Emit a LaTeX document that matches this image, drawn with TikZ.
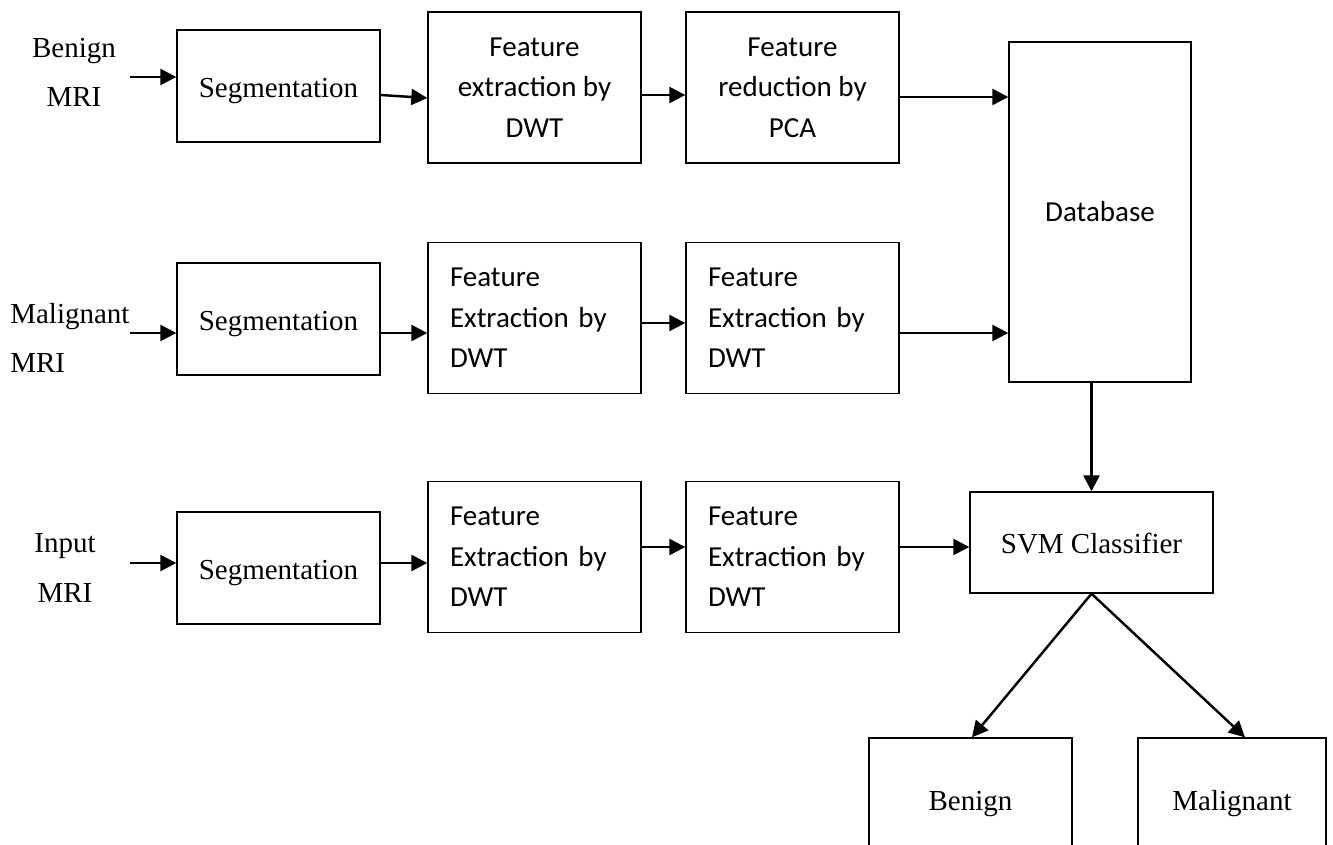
\documentclass[tikz,border=0pt]{standalone}
\usepackage{fontspec}
\setmainfont{Liberation Serif}
\newfontfamily\calibri{Carlito}
\usetikzlibrary{arrows.meta}

\begin{document}
\begin{tikzpicture}[x=0.02cm,y=-0.02cm,
		box/.style={draw,line width=0.8pt,inner sep=0pt,align=center,font=\fontsize{16.5}{23}\selectfont},
		sbox/.style={box,text depth=0pt,text height=0.45cm},
		fbox/.style={box,minimum width=4.26cm,minimum height=3.02cm,font=\calibri\fontsize{16.5}{23}\selectfont},
		lfbox/.style={fbox,align=left,text width=3.38cm,inner xsep=0.44cm},
		lbl/.style={inner sep=0pt,font=\fontsize{16.5}{28}\selectfont},
		arr/.style={-{Triangle[length=0.32cm,width=0.32cm]},line width=1.4pt}]
	\useasboundingbox (0,0) rectangle (1333,845);
	\clip (0,0) rectangle (1333,845);
	% labels
	\node[lbl,align=center] (l1) at (74,72) {Benign\\MRI};
	\node[lbl,align=left,anchor=west] (l2) at (10,338) {Malignant\\MRI};
	\node[lbl,align=center] (l3) at (65,568) {Input\\MRI};
	\coordinate (c1) at (130,77);
	\coordinate (c2) at (130,333);
	\coordinate (c3) at (130,563);
	% row 1
	\node[sbox,minimum width=4.06cm,minimum height=2.24cm] (s1) at (278.5,86) {Segmentation};
	\node[fbox] (f1) at (534.5,87.5) {Feature\\extraction by\\DWT};
	\node[fbox] (r1) at (792.5,87.5) {Feature\\reduction by\\PCA};
	% row 2
	\node[sbox,minimum width=4.06cm,minimum height=2.24cm] (s2) at (278.5,319) {Segmentation};
	\node[lfbox] (f2) at (534.5,318) {Feature\\Extraction by\\DWT};
	\node[lfbox] (r2) at (792.5,318) {Feature\\Extraction by\\DWT};
	% row 3
	\node[sbox,minimum width=4.06cm,minimum height=2.24cm] (s3) at (278.5,568) {Segmentation};
	\node[lfbox] (f3) at (534.5,557) {Feature\\Extraction by\\DWT};
	\node[lfbox] (r3) at (792.5,557) {Feature\\Extraction by\\DWT};
	% right side
	\node[box,minimum width=3.64cm,minimum height=6.8cm,font=\calibri\fontsize{16.5}{23}\selectfont] (db) at (1100,212) {Database};
	\node[sbox,minimum width=4.86cm,minimum height=2.02cm] (svm) at (1091.5,542.5) {SVM Classifier};
	\node[sbox,minimum width=4.06cm,minimum height=2.44cm] (bn) at (970.5,799) {Benign};
	\node[sbox,minimum width=3.76cm,minimum height=2.44cm] (ml) at (1232,799) {Malignant};
	% arrows
	\draw[arr] (c1) -- (c1 -| s1.west);
	\draw[arr] ([yshift=-0.18cm]s1.east) -- ([yshift=-0.21cm]f1.west);
	\draw[arr] ([yshift=-0.15cm]f1.east) -- ([yshift=-0.15cm]r1.west);
	\draw[arr] ([yshift=-0.19cm]r1.east) -- ([yshift=-0.19cm]r1.east -| db.west);
	\draw[arr] (c2) -- (c2 -| s2.west);
	\draw[arr] ([yshift=-0.28cm]s2.east) -- ([yshift=-0.28cm]s2.east -| f2.west);
	\draw[arr] ([yshift=-0.1cm]f2.east) -- ([yshift=-0.1cm]r2.west);
	\draw[arr] ([yshift=-0.3cm]r2.east) -- ([yshift=-0.3cm]r2.east -| db.west);
	\draw[arr] (c3) -- (c3 -| s3.west);
	\draw[arr] ([yshift=0.1cm]s3.east) -- ([yshift=0.1cm]s3.east -| f3.west);
	\draw[arr] ([yshift=0.2cm]f3.east) -- ([yshift=0.2cm]r3.west);
	\draw[arr] ([yshift=0.2cm]r3.east) -- ([yshift=0.2cm]r3.east -| svm.west);
	\draw[arr] (svm.north |- db.south) -- (svm.north);
	\draw[arr] (svm.south) -- ([xshift=0.03cm]bn.north);
	\draw[arr] (svm.south) -- ([xshift=0.26cm]ml.north);
\end{tikzpicture}
\end{document}
